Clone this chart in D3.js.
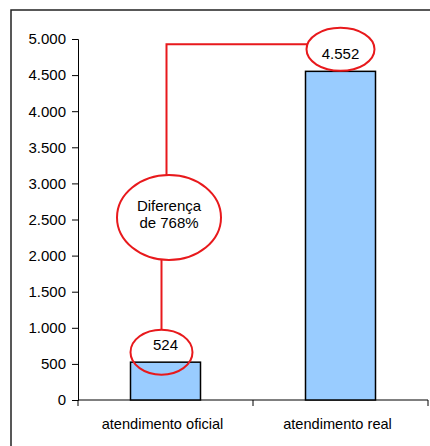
<!DOCTYPE html>
<html>
<head>
<meta charset="utf-8">
<script src="https://cdn.jsdelivr.net/npm/d3@7"></script>
<style>
  body { margin: 0; background: #fff; }
  svg { display: block; font-family: "Liberation Sans", Arial, sans-serif; }
</style>
</head>
<body>
<div id="chart"></div>
<script>
// data
const categories = ["atendimento oficial", "atendimento real"];
const values = [524, 4552];
const valueLabels = ["524", "4.552"];
const yTicks = [0, 500, 1000, 1500, 2000, 2500, 3000, 3500, 4000, 4500, 5000];
const noteLines = ["Diferença", "de 768%"];

const W = 430, H = 446;
const margin = { top: 39, right: 2, bottom: 46, left: 78 };

const svg = d3.select("#chart").append("svg")
  .attr("width", W)
  .attr("height", H);

// outer frame (runs off the right and bottom edges)
svg.append("rect")
  .attr("x", 11).attr("y", 10)
  .attr("width", 440).attr("height", 460)
  .attr("fill", "none")
  .attr("stroke", "#222")
  .attr("stroke-width", 1.5);

const x = d3.scaleBand()
  .domain(categories)
  .range([margin.left, W - margin.right])
  .paddingInner(0.6)
  .paddingOuter(0.3);

const xEdge = d3.scalePoint()
  .domain(d3.range(categories.length + 1))
  .range([margin.left, W - margin.right]);

const y = d3.scaleLinear()
  .domain([0, 5000])
  .range([H - margin.bottom, margin.top]);

const fmt = d => d3.format(",")(d).replace(/,/g, ".");

// y axis
const yAxis = svg.append("g")
  .attr("transform", `translate(${margin.left},0)`)
  .call(d3.axisLeft(y).tickValues(yTicks).tickFormat(fmt).tickSize(6).tickPadding(6));
yAxis.select(".domain").attr("stroke", "#000");
yAxis.selectAll("line").attr("stroke", "#000");
yAxis.selectAll("text").attr("font-size", 15).attr("fill", "#000")
  .attr("font-family", "Liberation Sans, Arial, sans-serif");

// x axis
const xg = svg.append("g");
xg.append("line")
  .attr("x1", margin.left).attr("x2", W - margin.right)
  .attr("y1", y(0)).attr("y2", y(0))
  .attr("stroke", "#000");
xg.selectAll("line.tick")
  .data(xEdge.domain())
  .join("line")
  .attr("class", "tick")
  .attr("x1", d => xEdge(d)).attr("x2", d => xEdge(d))
  .attr("y1", y(0)).attr("y2", y(0) + 6)
  .attr("stroke", "#000");
xg.selectAll("text")
  .data(categories)
  .join("text")
  .attr("x", d => x(d) + x.bandwidth() / 2 - 3)
  .attr("y", y(0) + 29)
  .attr("text-anchor", "middle")
  .attr("font-size", 14.6)
  .text(d => d);

// bars
svg.selectAll("rect.bar")
  .data(values)
  .join("rect")
  .attr("class", "bar")
  .attr("x", (d, i) => x(categories[i]))
  .attr("y", d => y(d))
  .attr("width", x.bandwidth())
  .attr("height", d => y(0) - y(d))
  .attr("fill", "#99ccff")
  .attr("stroke", "#000")
  .attr("stroke-width", 1.5);

// annotations
const red = "#e8191c";
const cx0 = x(categories[0]) + x.bandwidth() / 2 - 4;
const cx1 = x(categories[1]) + x.bandwidth() / 2;
const e0 = { cx: cx0, cy: y(values[0]) - 10, rx: 31, ry: 22.5 };
const e1 = { cx: cx1, cy: y(values[1]) - 22, rx: 34, ry: 21.5 };
const eNote = { cx: 169, cy: 217.5, rx: 52, ry: 42.5 };
const topY = e1.cy - 5;
const leftX = cx0 + 5;

const ann = svg.append("g").attr("fill", "none").attr("stroke", red).attr("stroke-width", 2);
ann.append("path")
  .attr("d", `M${leftX},${eNote.cy - eNote.ry} V${topY} H${e1.cx - e1.rx + 1}`);
ann.append("path")
  .attr("d", `M${e0.cx},${eNote.cy + eNote.ry} V${e0.cy - e0.ry}`);

[e0, e1, eNote].forEach(e => {
  ann.append("ellipse")
    .attr("cx", e.cx).attr("cy", e.cy)
    .attr("rx", e.rx).attr("ry", e.ry);
});

svg.append("text")
  .attr("x", e0.cx + 4).attr("y", e0.cy - 2)
  .attr("text-anchor", "middle").attr("font-size", 15)
  .text(valueLabels[0]);
svg.append("text")
  .attr("x", e1.cx).attr("y", e1.cy + 10)
  .attr("text-anchor", "middle").attr("font-size", 15)
  .text(valueLabels[1]);
svg.append("g").selectAll("text")
  .data(noteLines)
  .join("text")
  .attr("x", eNote.cx)
  .attr("y", (d, i) => eNote.cy - 7 + i * 17)
  .attr("text-anchor", "middle")
  .attr("font-size", 15)
  .text(d => d);
</script>
</body>
</html>
